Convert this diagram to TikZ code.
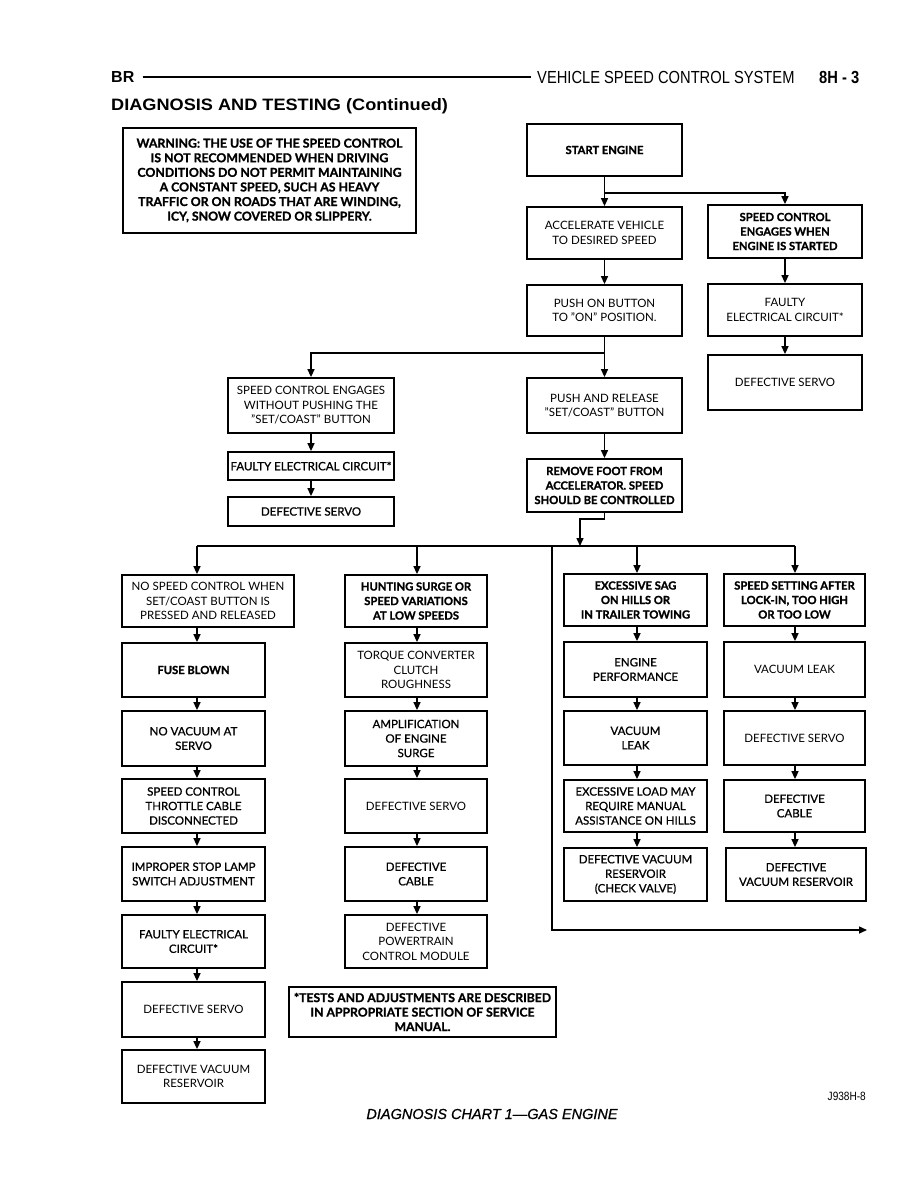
\documentclass[tikz,border=0pt]{standalone}
\usepackage{fontspec}
\setmainfont{Lato}
\newfontfamily\hdfont{Liberation Sans}
\newfontfamily\widefont[FakeStretch=1.1]{Liberation Sans}
\newfontfamily\condfont[FakeStretch=0.84]{Liberation Sans}
\newfontfamily\medfont[FakeBold=0.9]{Lato}
\newfontfamily\hvfont[BoldFeatures={FakeBold=1.2}]{Lato}
\newfontfamily\capfont[ItalicFeatures={FakeBold=0.8}]{Liberation Sans}
\usetikzlibrary{arrows.meta}
\begin{document}
\begin{tikzpicture}[x=1pt,y=-1pt,
  box/.style={draw, line width=1.8pt, align=center, inner sep=1pt,
    font=\fontsize{11.5}{14.5}\selectfont},
  bbox/.style={box, font=\hvfont\bfseries\fontsize{11.2}{14.5}\selectfont},
  mbox/.style={box, font=\medfont\fontsize{11.5}{14.5}\selectfont},
  arr/.style={line width=1.5pt, -{Triangle[length=8pt,width=7pt]}},
  ln/.style={line width=1.5pt}]
\fill[white] (0,0) rectangle (918,1188);
\useasboundingbox (0,0) rectangle (918,1188);

% header
\node[anchor=west, inner sep=0, font=\hdfont\bfseries\fontsize{16}{16}\selectfont] (br) at (111,77) {BR};
\node[anchor=west, inner sep=0, font=\condfont\fontsize{17.5}{17.5}\selectfont] (vsc) at (537,77) {VEHICLE SPEED CONTROL SYSTEM};
\node[anchor=west, inner sep=0, font=\condfont\bfseries\fontsize{17.5}{17.5}\selectfont] (pg) at (819,77) {8H - 3};
\draw[line width=1.3pt] (br.east) ++(8,0) -- ([xshift=-6pt]vsc.west);
\node[anchor=west, inner sep=0, font=\widefont\bfseries\fontsize{16.5}{16.5}\selectfont] (dt) at (111,106) {DIAGNOSIS AND TESTING (Continued)};

% warning
\node[bbox, font=\hvfont\bfseries\fontsize{12.3}{14.6}\selectfont, minimum width=293, minimum height=105] (warn) at (269.5,180.5)
  {WARNING: THE USE OF THE SPEED CONTROL\\IS NOT RECOMMENDED WHEN DRIVING\\CONDITIONS DO NOT PERMIT MAINTAINING\\A CONSTANT SPEED, SUCH AS HEAVY\\TRAFFIC OR ON ROADS THAT ARE WINDING,\\ICY, SNOW COVERED OR SLIPPERY.};

% top flow
\node[bbox, minimum width=155, minimum height=52] (start) at (604.5,150) {START ENGINE};
\node[box, minimum width=155, minimum height=52] (accel) at (604.5,233) {ACCELERATE VEHICLE\\TO DESIRED SPEED};
\node[bbox, minimum width=154, minimum height=53] (sceng) at (785,231.5) {SPEED CONTROL\\ENGAGES WHEN\\ENGINE IS STARTED};
\node[box, minimum width=155, minimum height=51] (pushon) at (604.5,310.5) {PUSH ON BUTTON\\TO "ON" POSITION.};
\node[box, minimum width=154, minimum height=52] (faulty1) at (785,310) {FAULTY\\ELECTRICAL CIRCUIT*};
\node[box, minimum width=154, minimum height=55] (dserv1) at (785,382.5) {DEFECTIVE SERVO};
\node[box, minimum width=166, minimum height=55] (without) at (311,405.5) {SPEED CONTROL ENGAGES\\WITHOUT PUSHING THE\\"SET/COAST" BUTTON};
\node[box, minimum width=155, minimum height=55] (pushrel) at (604.5,405.5) {PUSH AND RELEASE\\"SET/COAST" BUTTON};
\node[mbox, minimum width=166, minimum height=28] (faulty2) at (311,466) {FAULTY ELECTRICAL CIRCUIT*};
\node[mbox, minimum width=166, minimum height=29] (dserv2) at (311,511.5) {DEFECTIVE SERVO};
\node[bbox, minimum width=155, minimum height=53] (remove) at (604.5,485.5) {REMOVE FOOT FROM\\ACCELERATOR. SPEED\\SHOULD BE CONTROLLED};

\coordinate (j1) at (604.5,193);
\coordinate (j2) at (604.5,353);
\coordinate (jr) at (580,519);
\coordinate (h0) at (580,546);
\draw[arr] (start) -- (accel);
\draw[arr] (j1) -| (sceng.north);
\draw[arr] (accel) -- (pushon);
\draw[arr] (sceng) -- (faulty1);
\draw[arr] (faulty1) -- (dserv1);
\draw[arr] (pushon) -- (pushrel);
\draw[arr] (j2) -| (without.north);
\draw[arr] (without) -- (faulty2);
\draw[arr] (faulty2) -- (dserv2);
\draw[arr] (pushrel) -- (remove);
\draw[arr] (remove.south) |- (jr) -- (h0);

% distribution line
\coordinate (h1) at (197,546);
\coordinate (h2) at (417,546);
\coordinate (h3) at (637,546);
\coordinate (h4) at (795,546);
\coordinate (hb) at (552,546);
\coordinate (hc) at (552,930);
\coordinate (he) at (867,930);
\draw[ln] (h1) -- (h4);
\draw[arr] (hb) -- (hc) -- (he);

% column 1
\node[box, minimum width=172, minimum height=52] (nsc) at (208,601) {NO SPEED CONTROL WHEN\\SET/COAST BUTTON IS\\PRESSED AND RELEASED};
\node[bbox, minimum width=143, minimum height=54] (fuse) at (193.5,670) {FUSE BLOWN};
\node[mbox, minimum width=143, minimum height=55] (novac) at (193.5,738.5) {NO VACUUM AT\\SERVO};
\node[mbox, minimum width=143, minimum height=54] (throt) at (193.5,806) {SPEED CONTROL\\THROTTLE CABLE\\DISCONNECTED};
\node[mbox, minimum width=143, minimum height=54] (improp) at (193.5,874) {IMPROPER STOP LAMP\\SWITCH ADJUSTMENT};
\node[mbox, minimum width=143, minimum height=53] (faulty3) at (193.5,941.5) {FAULTY ELECTRICAL\\CIRCUIT*};
\node[box, minimum width=143, minimum height=55] (dserv3) at (193.5,1009.5) {DEFECTIVE SERVO};
\node[box, minimum width=143, minimum height=53] (dvac1) at (193.5,1076.5) {DEFECTIVE VACUUM\\RESERVOIR};
\draw[arr] (h1) -- (nsc.north -| h1);
\foreach \a/\b in {nsc/fuse,fuse/novac,novac/throt,throt/improp,improp/faulty3,faulty3/dserv3,dserv3/dvac1}
  \draw[arr] (\a.south -| h1) -- (\b.north -| h1);

% column 2
\node[bbox, minimum width=142, minimum height=52] (hunt) at (416,601) {HUNTING SURGE OR\\SPEED VARIATIONS\\AT LOW SPEEDS};
\node[box, minimum width=142, minimum height=54] (torque) at (416,670) {TORQUE CONVERTER\\CLUTCH\\ROUGHNESS};
\node[mbox, minimum width=142, minimum height=55] (ampl) at (416,738.5) {AMPLIFICATION\\OF ENGINE\\SURGE};
\node[box, minimum width=142, minimum height=54] (dserv4) at (416,806) {DEFECTIVE SERVO};
\node[mbox, minimum width=142, minimum height=54] (dcab1) at (416,874) {DEFECTIVE\\CABLE};
\node[box, minimum width=142, minimum height=53] (pcm) at (416,941.5) {DEFECTIVE\\POWERTRAIN\\CONTROL MODULE};
\draw[arr] (h2) -- (hunt.north -| h2);
\foreach \a/\b in {hunt/torque,torque/ampl,ampl/dserv4,dserv4/dcab1,dcab1/pcm}
  \draw[arr] (\a.south -| h2) -- (\b.north -| h2);

% note
\node[bbox, font=\hvfont\bfseries\fontsize{12.2}{14.5}\selectfont, minimum width=267, minimum height=50] (note) at (422.5,1012) {*TESTS AND ADJUSTMENTS ARE DESCRIBED\\IN APPROPRIATE SECTION OF SERVICE\\MANUAL.};

% column 3
\node[bbox, minimum width=143, minimum height=52] (sag) at (635.5,600) {EXCESSIVE SAG\\ON HILLS OR\\IN TRAILER TOWING};
\node[mbox, minimum width=143, minimum height=55] (engp) at (635.5,669.5) {ENGINE\\PERFORMANCE};
\node[mbox, minimum width=143, minimum height=54] (vleak1) at (635.5,738) {VACUUM\\LEAK};
\node[mbox, minimum width=143, minimum height=52] (exload) at (635.5,806) {EXCESSIVE LOAD MAY\\REQUIRE MANUAL\\ASSISTANCE ON HILLS};
\node[mbox, minimum width=143, minimum height=53] (dvac2) at (635.5,874.5) {DEFECTIVE VACUUM\\RESERVOIR\\(CHECK VALVE)};
\draw[arr] (h3) -- (sag.north -| h3);
\foreach \a/\b in {sag/engp,engp/vleak1,vleak1/exload,exload/dvac2}
  \draw[arr] (\a.south -| h3) -- (\b.north -| h3);

% column 4
\node[bbox, minimum width=141, minimum height=52] (sett) at (794.5,600) {SPEED SETTING AFTER\\LOCK-IN, TOO HIGH\\OR TOO LOW};
\node[box, minimum width=141, minimum height=55] (vleak2) at (794.5,669.5) {VACUUM LEAK};
\node[box, minimum width=141, minimum height=54] (dserv5) at (794.5,738) {DEFECTIVE SERVO};
\node[mbox, minimum width=141, minimum height=52] (dcab2) at (794.5,806) {DEFECTIVE\\CABLE};
\node[mbox, minimum width=140, minimum height=53] (dvac3) at (796,874.5) {DEFECTIVE\\VACUUM RESERVOIR};
\draw[arr] (h4) -- (sett.north -| h4);
\foreach \a/\b in {sett/vleak2,vleak2/dserv5,dserv5/dcab2,dcab2/dvac3}
  \draw[arr] (\a.south -| h4) -- (\b.north -| h4);

% caption
\node[anchor=east, inner sep=0, font=\condfont\fontsize{12}{12}\selectfont] (jid) at (866,1096) {J938H-8};
\node[inner sep=0, font=\capfont\itshape\fontsize{14.5}{14.5}\selectfont] (cap) at (492,1114) {DIAGNOSIS CHART 1—GAS ENGINE};
\end{tikzpicture}
\end{document}
